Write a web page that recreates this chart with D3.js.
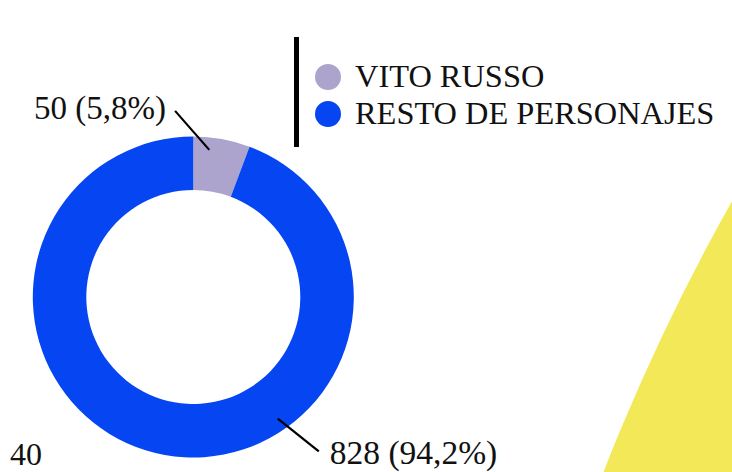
<!DOCTYPE html>
<html>
<head>
<meta charset="utf-8">
<script src="https://cdn.jsdelivr.net/npm/d3@7"></script>
<style>
  html, body { margin: 0; padding: 0; background: #fff; }
  svg { display: block; }
  text { font-family: "Liberation Serif", "DejaVu Serif", serif; fill: #111; }
</style>
</head>
<body>
<svg id="chart" width="732" height="472"></svg>
<script>
// Appearances: Vito Russo vs. the rest of the characters
const categories = ["VITO RUSSO", "RESTO DE PERSONAJES"];
const values = [50, 828];
const percentLabels = ["5,8%", "94,2%"];
const colors = ["#aca4cd", "#0546f2"];
const cornerNote = "40";

const W = 732, H = 472;
const svg = d3.select("#chart");

// Large decorative yellow disc bleeding in from the right edge
svg.append("circle")
  .attr("cx", 2560).attr("cy", 1235).attr("r", 2100)
  .attr("fill", "#f3e858");

// Donut
const cx = 193.3, cy = 297, rOuter = 160.5, rInner = 107;
const pie = d3.pie().sort(null).value(d => d);
const arcs = pie(values);
const arc = d3.arc().innerRadius(rInner).outerRadius(rOuter);

const g = svg.append("g").attr("transform", `translate(${cx},${cy})`);
g.selectAll("path.slice")
  .data(arcs)
  .join("path")
  .attr("class", "slice")
  .attr("d", arc)
  .attr("fill", (d, i) => colors[i]);

// Value labels with leader lines (angles in degrees, clockwise from 12 o'clock)
const labelSpecs = [
  { angle: 6.2, r0: 148, r1: 187, endAngle: -5.6, anchor: "end", dx: -9, dy: 8, size: 33 },
  { angle: 145.2, r0: 148, r1: 199, endAngle: 140.9, anchor: "start", dx: 11, dy: 13, size: 33.5 }
];
const polar = (deg, r) => {
  const a = deg * Math.PI / 180;
  return [r * Math.sin(a), -r * Math.cos(a)];
};
labelSpecs.forEach((s, i) => {
  const p0 = polar(s.angle, s.r0);
  const p1 = polar(s.endAngle, s.r1);
  g.append("line")
    .attr("x1", p0[0]).attr("y1", p0[1])
    .attr("x2", p1[0]).attr("y2", p1[1])
    .attr("stroke", "#000").attr("stroke-width", 2.2);
  g.append("text")
    .attr("x", p1[0] + s.dx).attr("y", p1[1] + s.dy)
    .attr("text-anchor", s.anchor)
    .attr("font-size", s.size)
    .text(`${values[i]} (${percentLabels[i]})`);
});

// Legend
const legend = svg.append("g");
legend.append("rect")
  .attr("x", 294).attr("y", 37).attr("width", 5).attr("height", 110)
  .attr("fill", "#000");
const rowY = d3.scalePoint().domain(categories).range([87, 124]);
categories.forEach((c, i) => {
  legend.append("circle")
    .attr("cx", 328).attr("cy", rowY(c) - 10).attr("r", 13)
    .attr("fill", colors[i]);
  legend.append("text")
    .attr("x", 355).attr("y", rowY(c))
    .attr("font-size", 32.4)
    .text(c);
});

// Stray axis number at the lower-left corner
svg.append("text")
  .attr("x", 10).attr("y", 465)
  .attr("font-size", 32)
  .text(cornerNote);
</script>
</body>
</html>
